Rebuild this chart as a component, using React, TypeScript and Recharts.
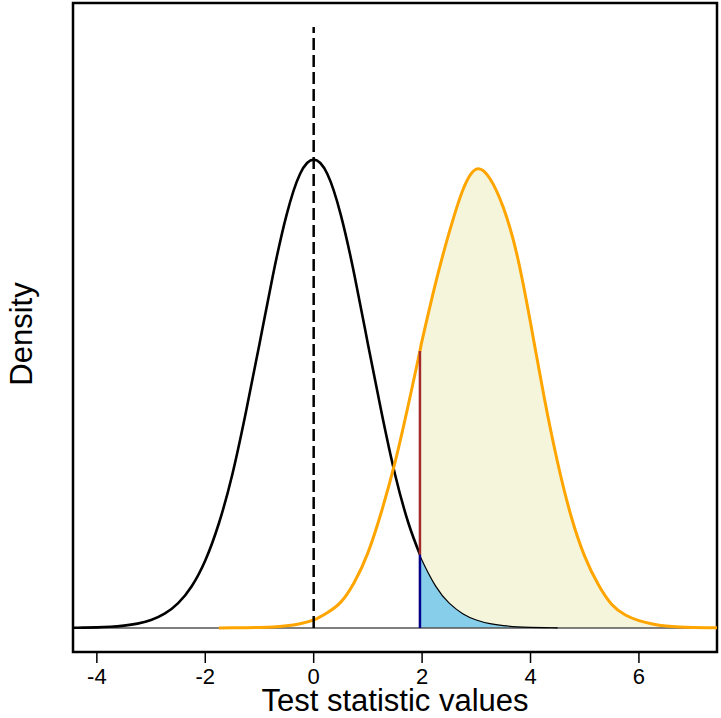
import React from "react";
import {
  ComposedChart,
  Line,
  Area,
  XAxis,
  YAxis,
  ReferenceLine,
  ReferenceArea,
  Label,
} from "recharts";

// Test statistic grid (x values)
const xs = [
  -4.5, -4.25, -4, -3.75, -3.5, -3.25, -3, -2.75, -2.5, -2.25, -2, -1.75, -1.5, -1.25, -1, -0.75, -0.5, -0.25,
  0, 0.25, 0.5, 0.75, 1, 1.25, 1.5, 1.75, 1.96,
  2, 2.25, 2.5, 2.75, 3, 3.25, 3.5, 3.75, 4, 4.25, 4.5, 4.75, 5, 5.25, 5.5, 5.75, 6, 6.25, 6.5, 6.75, 7, 7.25, 7.5,
];

// Density under the null hypothesis (black curve)
const nullDensity = [
  0.0001, 0.0003, 0.0005, 0.001, 0.002, 0.0037, 0.0068, 0.0122, 0.0212, 0.0356, 0.0575, 0.089, 0.131, 0.184, 0.242, 0.301, 0.352, 0.387,
  0.399, 0.387, 0.352, 0.301, 0.242, 0.184, 0.131, 0.089, 0.0625,
  0.0575, 0.0356, 0.0212, 0.0122, 0.0068, 0.0037, 0.002, 0.001, 0.0005, 0.0003, 0.0001,
  null, null, null, null, null, null, null, null, null, null, null, null,
];

// Density under the alternative hypothesis (orange curve)
const altDensity = [
  null, null, null, null, null, null, null, null, null, null, null,
  0.0, 0.0001, 0.0002, 0.0004, 0.0008, 0.0018, 0.0036,
  0.0068, 0.013, 0.022, 0.039, 0.064, 0.099, 0.141, 0.191, 0.236,
  0.245, 0.294, 0.337, 0.373, 0.391, 0.383, 0.358, 0.318, 0.26, 0.197, 0.141, 0.095, 0.061, 0.037, 0.02, 0.011,
  0.0062, 0.0033, 0.0016, 0.0008, 0.0004, 0.0002, 0.0001,
];

const xTicks = [-4, -2, 0, 2, 4, 6];
const critValue = 1.96;
const nullMean = 0;
const xLimits = [-4, 7];
const yLimits = [0, 0.512];

const padX = (xLimits[1] - xLimits[0]) * 0.04;
const padY = (yLimits[1] - yLimits[0]) * 0.04;
const xDomain: [number, number] = [xLimits[0] - padX, xLimits[1] + padX];
const yDomain: [number, number] = [yLimits[0] - padY, yLimits[1] + padY];

const critIndex = xs.indexOf(critValue);

const rows = xs.map((x, i) => ({
  x,
  nullHead: x <= critValue ? nullDensity[i] : null,
  nullTail: x >= critValue ? nullDensity[i] : null,
  nullFill: x >= critValue ? nullDensity[i] : null,
  alt: altDensity[i],
  altFill: x >= critValue ? altDensity[i] : null,
}));

const FONT = "'Liberation Sans', Arial, Helvetica, sans-serif";

const XTick = (props: any) => {
  const { x, payload } = props;
  return (
    <text x={x} y={684} textAnchor="middle" fontFamily={FONT} fontSize={22} fill="#000">
      {String(payload.value)}
    </text>
  );
};

const YTitle = (props: any) => {
  const vb = props.viewBox || { x: 0, y: 0, height: 0 };
  const cx = vb.x + 21.5;
  const cy = 334;
  return (
    <text
      x={cx}
      y={cy}
      transform={`rotate(-90, ${cx}, ${cy})`}
      textAnchor="middle"
      dominantBaseline="central"
      fontFamily={FONT}
      fontSize={31}
      fill="#000"
    >
      Density
    </text>
  );
};

const XTitle = (props: any) => {
  const vb = props.viewBox || { x: 0, y: 0, width: 0, height: 0 };
  return (
    <text
      x={vb.x + vb.width / 2}
      y={711}
      textAnchor="middle"
      fontFamily={FONT}
      fontSize={31}
      fill="#000"
    >
      Test statistic values
    </text>
  );
};

export default function App() {
  return (
    <div style={{ position: "absolute", left: 0, top: 0, width: 721, height: 718, background: "#fff" }}>
      <ComposedChart
        width={721}
        height={718}
        data={rows}
        margin={{ top: 3, right: 4, bottom: 0, left: 0 }}
      >
        <XAxis
          dataKey="x"
          type="number"
          domain={xDomain}
          allowDataOverflow
          ticks={xTicks}
          interval={0}
          height={66}
          axisLine={false}
          tickLine={{ stroke: "#000", strokeWidth: 1.5 }}
          tickSize={11}
          tickMargin={6}
          tick={<XTick />}
        >
          <Label content={<XTitle />} />
        </XAxis>
        <YAxis
          type="number"
          domain={yDomain}
          allowDataOverflow
          width={73}
          tick={false}
          tickLine={false}
          axisLine={false}
        >
          <Label content={<YTitle />} />
        </YAxis>

        <Area
          dataKey="altFill"
          type="natural"
          stroke="none"
          fill="#F5F5DC"
          fillOpacity={1}
          isAnimationActive={false}
          dot={false}
          activeDot={false}
        />
        <Area
          dataKey="nullFill"
          type="natural"
          stroke="none"
          fill="#87CEEB"
          fillOpacity={1}
          isAnimationActive={false}
          dot={false}
          activeDot={false}
        />
        <ReferenceLine y={0} stroke="#555555" strokeWidth={1.5} />
        <Line
          dataKey="nullHead"
          type="natural"
          stroke="#000"
          strokeWidth={2.6}
          dot={false}
          activeDot={false}
          isAnimationActive={false}
        />
        <Line
          dataKey="nullTail"
          type="natural"
          stroke="#000"
          strokeWidth={1.2}
          dot={false}
          activeDot={false}
          isAnimationActive={false}
        />
        <Line
          dataKey="alt"
          type="natural"
          stroke="#FFA500"
          strokeWidth={3}
          dot={false}
          activeDot={false}
          isAnimationActive={false}
        />
        <ReferenceLine
          segment={[
            { x: nullMean, y: yLimits[0] },
            { x: nullMean, y: yLimits[1] },
          ]}
          stroke="#000"
          strokeWidth={2.5}
          strokeDasharray="12 5"
        />
        <ReferenceLine
          segment={[
            { x: critValue, y: nullDensity[critIndex] as number },
            { x: critValue, y: altDensity[critIndex] as number },
          ]}
          stroke="#A52A2A"
          strokeWidth={2.5}
        />
        <ReferenceLine
          segment={[
            { x: critValue, y: 0 },
            { x: critValue, y: nullDensity[critIndex] as number },
          ]}
          stroke="#00008B"
          strokeWidth={2.5}
        />
        <ReferenceArea
          x1={xDomain[0]}
          x2={xDomain[1]}
          y1={yDomain[0]}
          y2={yDomain[1]}
          fill="none"
          fillOpacity={0}
          stroke="#000"
          strokeWidth={2.5}
          ifOverflow="visible"
        />
      </ComposedChart>
    </div>
  );
}
